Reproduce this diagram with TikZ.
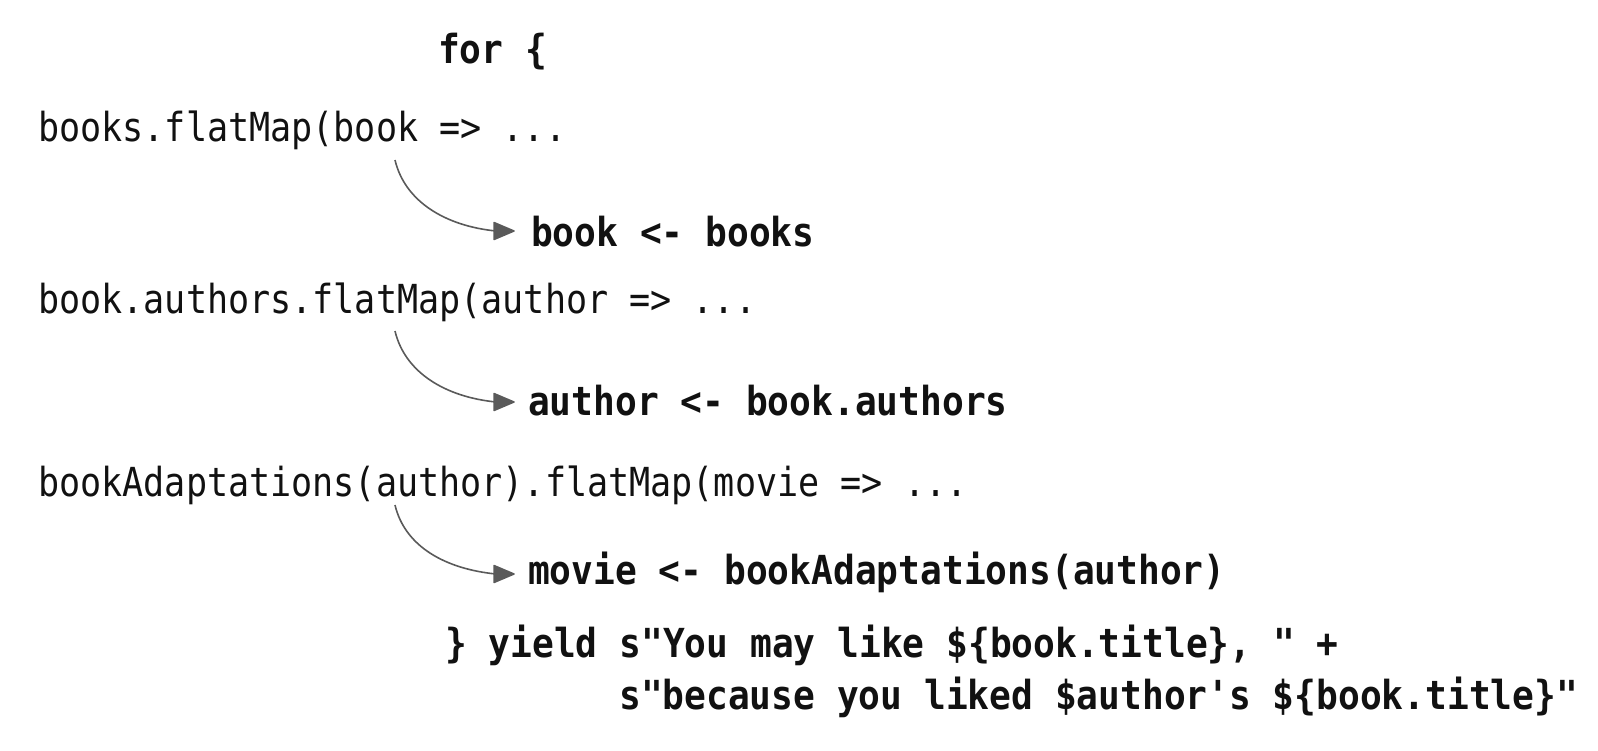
\documentclass[tikz,border=0pt]{standalone}
\usepackage{fontspec}
\newfontfamily\regmono{DejaVu Sans Mono}[FakeStretch=0.877]
\newfontfamily\boldmono{DejaVu Sans Mono}[FakeStretch=0.905]
\definecolor{arrowgray}{HTML}{5A5A5A}
\definecolor{ink}{HTML}{111111}
\tikzset{
  plain/.style={anchor=base west, inner sep=0pt, text=ink,
    font=\regmono\fontsize{40}{48}\selectfont},
  kw/.style={anchor=base west, inner sep=0pt, text=ink,
    font=\boldmono\bfseries\fontsize{40}{48}\selectfont},
  flow/.style={draw=arrowgray, line width=1.6pt},
  headtip/.style={fill=arrowgray, draw=arrowgray, line width=1.5pt, line join=round}
}
\begin{document}
\begin{tikzpicture}[x=1pt,y=-1pt]
\useasboundingbox (0,0) rectangle (1598,750);
\node[kw] (for) at (438,63) {for \{};
\node[plain] (m1) at (38,141) {books.flatMap(book => ...};
\node[kw] (g1) at (531,246) {book <- books};
\node[plain] (m2) at (38,313) {book.authors.flatMap(author => ...};
\node[kw] (g2) at (528,415) {author <- book.authors};
\node[plain] (m3) at (38,496) {bookAdaptations(author).flatMap(movie => ...};
\node[kw] (g3) at (528,584) {movie <- bookAdaptations(author)};
\node[kw] (y1) at (445,657) {\} yield s"You may like \$\{book.title\}, " +};
\node[kw] (y2) at (619,709) {s"because you liked \$author's \$\{book.title\}"};
\coordinate (s1) at ([xshift=357pt,yshift=-19pt]m1.base west);
\coordinate (e1) at ([xshift=-17pt,yshift=15pt]g1.base west);
\coordinate (b1) at ([xshift=-18pt]e1);
\coordinate (s2) at ([xshift=357pt,yshift=-18pt]m2.base west);
\coordinate (e2) at ([xshift=-14pt,yshift=13pt]g2.base west);
\coordinate (b2) at ([xshift=-18pt]e2);
\coordinate (s3) at ([xshift=357pt,yshift=-9pt]m3.base west);
\coordinate (e3) at ([xshift=-14pt,yshift=10pt]g3.base west);
\coordinate (b3) at ([xshift=-18pt]e3);
\draw[flow] (s1) .. controls +(10,42) and +(-50,-5) .. (b1);
\draw[flow] (s2) .. controls +(10,42) and +(-50,-5) .. (b2);
\draw[flow] (s3) .. controls +(10,42) and +(-50,-5) .. (b3);
\draw[headtip] (e1) -- ++(-20,-8.5) -- ++(0,17) -- cycle;
\draw[headtip] (e2) -- ++(-20,-8.5) -- ++(0,17) -- cycle;
\draw[headtip] (e3) -- ++(-20,-8.5) -- ++(0,17) -- cycle;
\end{tikzpicture}
\end{document}
